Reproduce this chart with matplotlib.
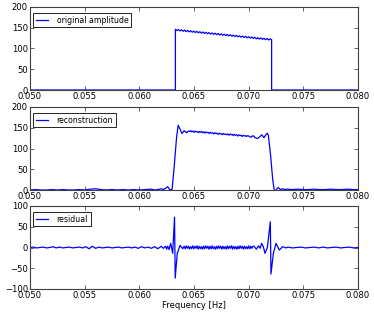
import numpy as np
import matplotlib
matplotlib.use("Agg")
import matplotlib.pyplot as plt

# ---- original amplitude ----
orig_zig = [146.5, 143, 145.8, 142.3, 145, 141.5, 144.3, 140.8, 143.5, 140, 142.8, 139.3,
            142, 138.5, 141.3, 137.8, 140.5, 137, 139.8, 136.3, 139, 135.5, 138.3, 134.8,
            137.5, 134, 136.8, 133.3, 136, 132.5, 135.3, 131.8, 134.5, 131, 133.8, 130.3,
            133, 129.5, 132.3, 128.8, 131.5, 128, 130.8, 127.3, 130, 126.5, 129.3, 125.8,
            128.5, 125, 127.8, 124.3, 127, 123.5, 126.3, 122.8, 125.5, 122, 124.8, 121.3,
            124, 120.5, 123.3, 121.5]
orig_edges = [0.0500, 0.06330, 0.07210, 0.0800]

# ---- reconstruction ----
rec_left = [0, 1, 0, 0, 1, 0, 1, 0, 0, 1, 0, 2, 3, 1, 0, 1, 0, 1, 0, 1, 0, 1, 2, 0, 3]
rec_rise_f = [0.0622, 0.0624, 0.0626, 0.0628, 0.0630, 0.0632, 0.0634, 0.06355, 0.0637,
              0.0639, 0.0641, 0.0643, 0.0645]
rec_rise_v = [1, 4, 8, 0, 2, 60, 125, 156, 148, 136, 143, 138, 142]
rec_mid = [141, 143, 140, 142, 139, 142, 140, 141, 138, 141, 139, 141, 138, 140, 137, 140,
           138, 139, 136, 139, 137, 138, 135, 138, 136, 137, 134, 137, 135, 136, 133, 136,
           134, 135, 133, 135, 132, 135, 133, 134, 131, 134, 132, 133, 130, 133, 131, 132,
           129, 132, 130, 131, 129, 131]
rec_fall_f = [0.0700, 0.0702, 0.0704, 0.0706, 0.0708, 0.0710, 0.0712, 0.0714, 0.0716,
              0.0717, 0.0718, 0.0720, 0.0722, 0.07235, 0.0725, 0.0727, 0.0729, 0.0731, 0.0733]
rec_fall_v = [130, 127, 131, 126, 124, 128, 133, 126, 134, 137, 132, 85, 25, -3, 0, 6, 1, 3, 1]
rec_tail = [2, 1, 2, 1, 1, 2, 1, 1, 2, 1, 1, 2, 1, 1]

# ---- residual ----
res_left = [0, 1, -1, 0, 1, -1, 0, 2, -1, 1, -1, 0, 1, -1, 0, 1, -1, 2, -3, 3, -2, 1, -1, 0,
            1, -1, 0, 1, -1, 0, 1, -1, 1, -2, 2, -1, 1, -2, 2, -3, 3]
res_sp1_f = [0.0622, 0.0624, 0.0625, 0.0626, 0.06272, 0.06287, 0.06305, 0.06322, 0.06328,
             0.06347, 0.06372, 0.06397]
res_sp1_v = [-2, 3, -4, 3, -5, 10, -14, 73, -74, -14, 5, -3]
res_mid = [3, -3, 4, -2, 3, -4, 2, -3, 4, -3, 3, -2, 4, -4, 3, -3, 2, -4, 3, -3, 4, -2, 3,
           -4, 3, -3, 4, -3, 2, -4, 3, -3, 4, -2, 3, -4, 3, -3, 2, -4, 4, -3, 3, -2, 4, -4,
           3, -3, 2, -4, 3, -3, 4, -2, 3, -4, 3, -3, 2, -3, 4, -3, 3, -2, 3]
res_sp2_f = [0.0705, 0.0707, 0.0709, 0.07105, 0.07119, 0.07134, 0.07149, 0.07171, 0.07198,
             0.07204, 0.07226, 0.0725, 0.0728, 0.07311, 0.07341]
res_sp2_v = [3, -4, 4, -2, 10, 2, -14, 0, 62, -64, -14, 10, -6, 2, -1]
res_tail = [1, -1, 0, 1, -1, 0, 1, -1, 1, -1, 0, 1, -1, 0, 1, -1, 0]

# assemble series on their frequency grids
orig_f = np.concatenate([[orig_edges[0], orig_edges[1]],
                         np.linspace(orig_edges[1], orig_edges[2], len(orig_zig)),
                         [orig_edges[2], orig_edges[3]]])
orig_v = np.concatenate([[0, 0], orig_zig, [0, 0]])

rec_f = np.concatenate([np.linspace(0.0500, 0.0620, len(rec_left)), rec_rise_f,
                        np.linspace(0.0646, 0.0699, len(rec_mid)), rec_fall_f,
                        np.linspace(0.0735, 0.0800, len(rec_tail))])
rec_v = np.concatenate([rec_left, rec_rise_v, rec_mid, rec_fall_v, rec_tail])

res_f = np.concatenate([np.linspace(0.0500, 0.0620, len(res_left)), res_sp1_f,
                        np.linspace(0.0641, 0.0704, len(res_mid)), res_sp2_f,
                        np.linspace(0.0736, 0.0800, len(res_tail))])
res_v = np.concatenate([res_left, res_sp1_v, res_mid, res_sp2_v, res_tail])

panels = [(orig_f, orig_v, 'original amplitude', (0, 200), [0, 50, 100, 150, 200]),
          (rec_f, rec_v, 'reconstruction', (0, 200), [0, 50, 100, 150, 200]),
          (res_f, res_v, 'residual', (-100, 100), [-100, -50, 0, 50, 100])]

fig = plt.figure(figsize=(3.74, 3.16), dpi=100)
W, H = 374.0, 316.0
tops = [7, 107, 206]
for i, (f, v, lab, ylim, yt) in enumerate(panels):
    top = tops[i]
    ax = fig.add_axes([30 / W, 1 - (top + 83) / H, 328 / W, 83 / H])
    ax.plot(f, v, color='b', lw=0.9, label=lab)
    ax.set_xlim(0.050, 0.080)
    ax.set_ylim(*ylim)
    ax.set_xticks([0.050, 0.055, 0.060, 0.065, 0.070, 0.075, 0.080])
    ax.set_xticklabels(['0.050', '0.055', '0.060', '0.065', '0.070', '0.075', '0.080'])
    ax.set_yticks(yt)
    ax.tick_params(direction='in', top=True, right=True, length=3, width=0.5,
                   labelsize=6.1, pad=1.5, colors='0.15', labelcolor='black')
    for s in ax.spines.values():
        s.set_linewidth(0.8)
        s.set_color('0.25')
    leg = ax.legend(loc='upper left', bbox_to_anchor=(3 / 328, 1 - 6 / 83),
                    borderaxespad=0, fontsize=5.6, fancybox=False, framealpha=1,
                    edgecolor='black', handlelength=1.6, handletextpad=1.1,
                    borderpad=0.35)
    leg.get_frame().set_linewidth(0.6)
    if i == 2:
        ax.set_xlabel('Frequency [Hz]', fontsize=6, labelpad=1)

fig.savefig('out.png', dpi=100)
